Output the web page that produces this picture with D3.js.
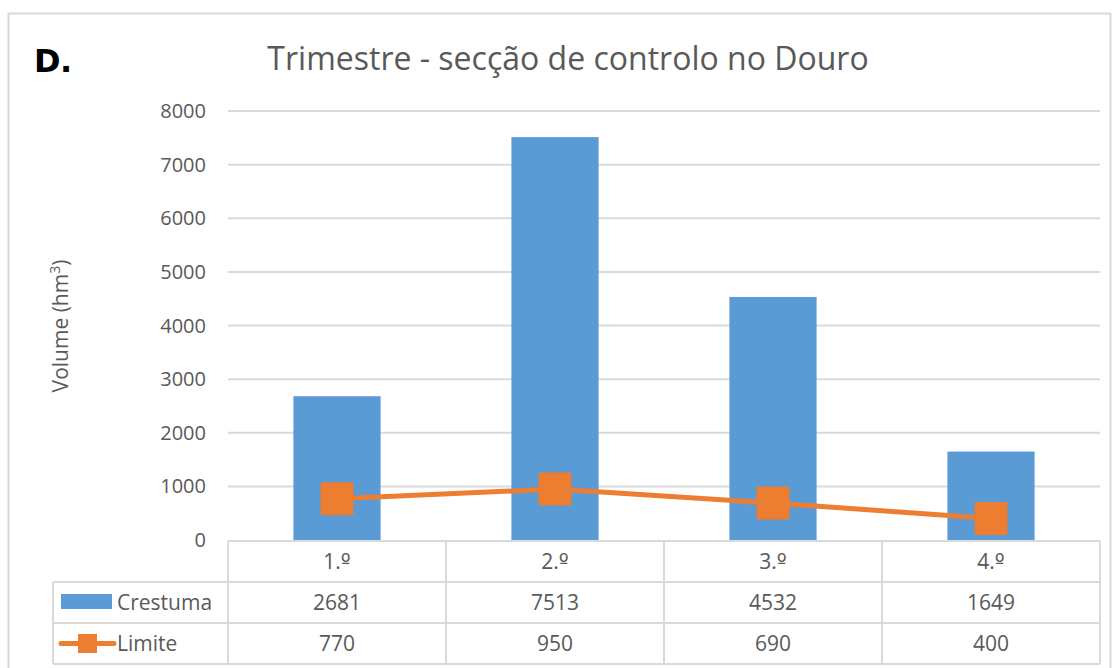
<!DOCTYPE html>
<html lang="pt">
<head>
    <meta charset="UTF-8">
    <title>Trimestre - secção de controlo no Douro</title>
    <script src="https://d3js.org/d3.v7.min.js"></script>
    <style>
        body {margin: 0; background: #fff;}
        text {font-family: "Open Sans", "Noto Sans", sans-serif; fill: #595959;}
    </style>
</head>
<body>
<script>
    const categories = ["1.º", "2.º", "3.º", "4.º"];
    const crestuma = [2681, 7513, 4532, 1649];
    const limite = [770, 950, 690, 400];
    const yTicks = [0, 1000, 2000, 3000, 4000, 5000, 6000, 7000, 8000];

    const width = 1114, height = 668;
    const blue = "#5B9BD5", orange = "#ED7D31", grid = "#D9D9D9";

    const svg = d3.select("body").append("svg")
        .attr("width", width).attr("height", height);

    // chart frame
    svg.append("rect")
        .attr("x", 8.5).attr("y", 13.5).attr("width", 1102).attr("height", 700)
        .style("fill", "none").style("stroke", grid).style("stroke-width", 2);

    const x = d3.scaleBand().domain(categories).range([228, 1100]);
    const y = d3.scaleLinear().domain([0, 8000]).range([540, 111]);

    // gridlines
    svg.append("g").selectAll("line")
        .data(yTicks.filter(d => d > 0))
        .enter().append("line")
        .attr("x1", 228).attr("x2", 1100)
        .attr("y1", d => y(d)).attr("y2", d => y(d))
        .style("stroke", grid).style("stroke-width", 2);

    // y tick labels
    svg.append("g").selectAll("text")
        .data(yTicks)
        .enter().append("text")
        .attr("x", 206).attr("y", d => y(d))
        .attr("dy", "0.35em")
        .attr("text-anchor", "end")
        .style("font-size", "20px")
        .text(d => d);

    // y axis title
    const yt = svg.append("text")
        .attr("transform", "translate(68,326) rotate(-90)")
        .attr("text-anchor", "middle")
        .style("font-size", "21px");
    yt.append("tspan").text("Volume (hm");
    yt.append("tspan").attr("dy", -8).style("font-size", "14px").text("3");
    yt.append("tspan").attr("dy", 8).text(")");

    // bars
    const barW = x.bandwidth() * 0.4;
    svg.append("g").selectAll("rect")
        .data(crestuma)
        .enter().append("rect")
        .attr("x", (d, i) => x(categories[i]) + (x.bandwidth() - barW) / 2)
        .attr("y", d => y(d))
        .attr("width", barW)
        .attr("height", d => y(0) - y(d))
        .style("fill", blue);

    // line + markers
    const line = d3.line()
        .x((d, i) => x(categories[i]) + x.bandwidth() / 2)
        .y(d => y(d));
    svg.append("path")
        .datum(limite)
        .attr("d", line)
        .style("fill", "none").style("stroke", orange).style("stroke-width", 5);
    svg.append("g").selectAll("rect")
        .data(limite)
        .enter().append("rect")
        .attr("x", (d, i) => x(categories[i]) + x.bandwidth() / 2 - 16.5)
        .attr("y", d => y(d) - 16.5)
        .attr("width", 33).attr("height", 33)
        .attr("rx", 2)
        .style("fill", orange);

    // data table
    const rowH = 41, tTop = 541, tLeft = 53;
    const tbl = svg.append("g").style("stroke", grid).style("stroke-width", 2);
    tbl.append("line").attr("x1", 228).attr("x2", 1100).attr("y1", tTop).attr("y2", tTop);
    [1, 2, 3].forEach(r => {
        tbl.append("line").attr("x1", tLeft).attr("x2", 1100)
            .attr("y1", tTop + r * rowH).attr("y2", tTop + r * rowH);
    });
    tbl.append("line").attr("x1", tLeft).attr("x2", tLeft)
        .attr("y1", tTop + rowH).attr("y2", tTop + 3 * rowH);
    d3.range(categories.length + 1).forEach(i => {
        const xx = 228 + i * x.bandwidth();
        tbl.append("line").attr("x1", xx).attr("x2", xx)
            .attr("y1", tTop).attr("y2", tTop + 3 * rowH);
    });

    // header row: number + ordinal sign (font with underlined º)
    const hdr = svg.append("g").selectAll("text")
        .data(categories)
        .enter().append("text")
        .attr("x", d => x(d) + x.bandwidth() / 2)
        .attr("y", tTop + rowH / 2)
        .attr("dy", "0.35em")
        .attr("text-anchor", "middle")
        .style("font-size", "21px");
    hdr.append("tspan").text(d => d.slice(0, -1));
    hdr.append("tspan").style("font-family", "'DejaVu Sans', sans-serif")
        .style("font-size", "21px").text(d => d.slice(-1));

    [crestuma, limite].forEach((row, r) => {
        svg.append("g").selectAll("text")
            .data(row)
            .enter().append("text")
            .attr("x", (d, i) => x(categories[i]) + x.bandwidth() / 2)
            .attr("y", tTop + (r + 1) * rowH + rowH / 2)
            .attr("dy", "0.35em")
            .attr("text-anchor", "middle")
            .style("font-size", "21px")
            .text(d => d);
    });

    // legend cells
    svg.append("rect").attr("x", 61).attr("y", 594).attr("width", 51).attr("height", 15)
        .style("fill", blue);
    svg.append("text").attr("x", 117).attr("y", tTop + rowH * 1.5).attr("dy", "0.35em")
        .style("font-size", "21px").text("Crestuma");
    svg.append("line").attr("x1", 61).attr("x2", 114)
        .attr("y1", tTop + rowH * 2.5).attr("y2", tTop + rowH * 2.5)
        .style("stroke", orange).style("stroke-width", 5).style("stroke-linecap", "round");
    svg.append("rect").attr("x", 78).attr("y", tTop + rowH * 2.5 - 9.5)
        .attr("width", 19).attr("height", 19).style("fill", orange);
    svg.append("text").attr("x", 117).attr("y", tTop + rowH * 2.5).attr("dy", "0.35em")
        .style("font-size", "21px").text("Limite");

    // titles
    svg.append("text").attr("x", 568).attr("y", 70)
        .attr("text-anchor", "middle")
        .style("font-size", "32px")
        .text("Trimestre - secção de controlo no Douro");
    svg.append("text").attr("x", 34).attr("y", 72)
        .style("font-family", "'DejaVu Sans', sans-serif")
        .style("font-size", "32px").style("font-weight", "bold").style("fill", "#000")
        .style("letter-spacing", "-0.5px")
        .text("D.");
</script>
</body>
</html>
